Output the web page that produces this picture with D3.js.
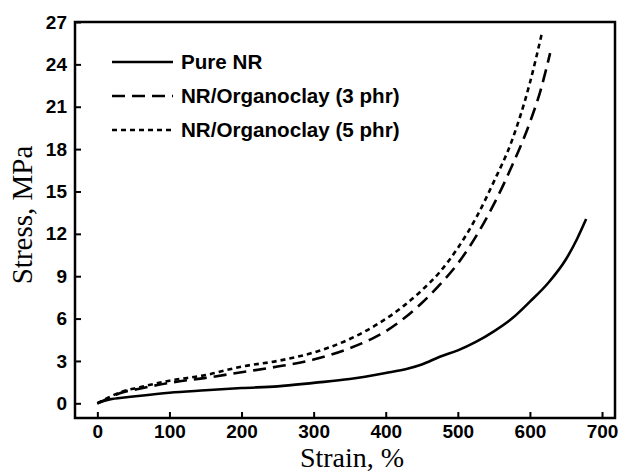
<!DOCTYPE html>
<html><head><meta charset="utf-8">
<script src="https://cdn.jsdelivr.net/npm/d3@7"></script>
<style>body{margin:0;background:#fff}svg{display:block}</style>
</head><body>
<svg id="c" width="620" height="474"></svg>
<script>
const xTicks = [0,100,200,300,400,500,600,700];
const yTicks = [0,3,6,9,12,15,18,21,24,27];
const seriesNames = ["Pure NR","NR/Organoclay (3 phr)","NR/Organoclay (5 phr)"];
const pureNR = [[0,0],[10,0.18],[20,0.3],[50,0.48],[100,0.75],[150,0.92],[200,1.08],[250,1.2],[300,1.45],[350,1.72],[400,2.15],[430,2.45],[450,2.75],[475,3.3],[500,3.75],[525,4.35],[550,5.1],[575,6.0],[600,7.2],[625,8.5],[650,10.2],[665,11.6],[678,13.05]];
const clay3 = [[0,0],[15,0.35],[30,0.7],[60,1.05],[100,1.45],[150,1.8],[200,2.2],[250,2.6],[300,3.1],[350,3.9],[380,4.55],[400,5.1],[425,6.0],[450,7.1],[475,8.4],[500,9.9],[525,11.8],[550,14.1],[575,16.8],[600,19.9],[615,22.2],[628,24.8]];
const clay5 = [[0,0],[15,0.4],[30,0.75],[60,1.15],[100,1.6],[150,2.0],[200,2.6],[250,3.0],[300,3.6],[350,4.55],[390,5.65],[425,6.9],[450,8.0],[475,9.3],[500,11.0],[525,13.1],[550,15.7],[575,18.6],[600,22.7],[617,26.3]];

const svg = d3.select("#c");
const L = 75, R = 615, T = 22, B = 418;
const x = d3.scaleLinear().domain([-31, 718]).range([L, R]);
const y = d3.scaleLinear().domain([-1.04, 27]).range([B, T]);

const xAxis = svg.append("g").attr("transform",`translate(0,${B})`)
  .call(d3.axisBottom(x).tickValues(xTicks).tickSizeInner(-6).tickSizeOuter(0).tickPadding(7));
const yAxis = svg.append("g").attr("transform",`translate(${L},0)`)
  .call(d3.axisLeft(y).tickValues(yTicks).tickSizeInner(-6).tickSizeOuter(0).tickPadding(8));
[xAxis,yAxis].forEach(g=>{
  g.select(".domain").remove();
  g.selectAll(".tick line").attr("stroke","#000").attr("stroke-width",2);
  g.selectAll(".tick text").attr("fill","#000").style("font-family","'Liberation Sans',Arial,sans-serif")
   .style("font-weight","bold").style("font-size","19px");
});
svg.append("rect").attr("x",L).attr("y",T).attr("width",R-L).attr("height",B-T)
  .attr("fill","none").attr("stroke","#000").attr("stroke-width",2.5);

const line = d3.line().x(d=>x(d[0])).y(d=>y(d[1])).curve(d3.curveMonotoneX);
const styles = [null,"13,7","5,4"];
const data = [pureNR, clay3, clay5];
data.forEach((d,i)=>{
  svg.append("path").datum(d).attr("d",line).attr("fill","none").attr("stroke","#000")
    .attr("stroke-width",2.6).attr("stroke-dasharray",styles[i]);
});

const legY = [62, 96, 130];
seriesNames.forEach((n,i)=>{
  svg.append("line").attr("x1",112).attr("x2",173).attr("y1",legY[i]).attr("y2",legY[i])
    .attr("stroke","#000").attr("stroke-width",2.6).attr("stroke-dasharray",styles[i]);
  svg.append("text").attr("x",181).attr("y",legY[i]+7).text(n)
    .style("font-family","'Liberation Sans',Arial,sans-serif").style("font-weight","bold").style("font-size","20.6px");
});

svg.append("text").attr("x",352).attr("y",467).attr("text-anchor","middle").text("Strain, %")
  .style("font-family","'Liberation Serif','Times New Roman',serif").style("font-size","28px");
svg.append("text").attr("transform","translate(32,215) rotate(-90)").attr("text-anchor","middle").text("Stress, MPa")
  .style("font-family","'Liberation Serif','Times New Roman',serif").style("font-size","29px");
</script>
</body></html>
